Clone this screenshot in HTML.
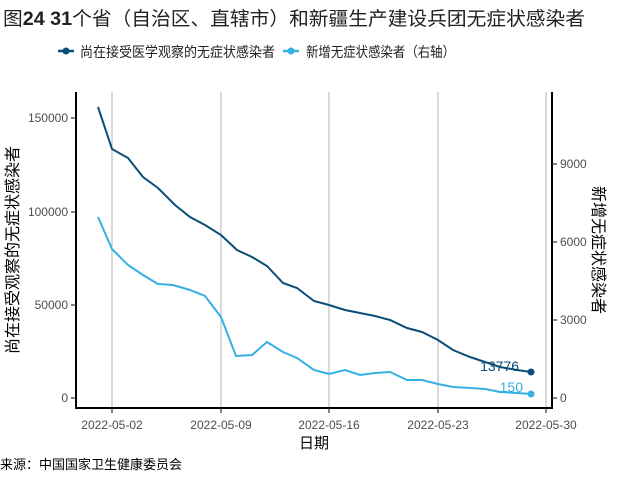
<!DOCTYPE html>
<html><head><meta charset="utf-8"><style>
body{margin:0;background:#fff;}
svg{display:block;font-family:"Liberation Sans","Noto Sans CJK SC",sans-serif;}
</style></head><body>
<svg width="640" height="480" viewBox="0 0 640 480">
<rect width="640" height="480" fill="#fff"/>
<text x="3" y="25" font-size="19" fill="#222" textLength="582" lengthAdjust="spacingAndGlyphs">图<tspan font-weight="bold">24 31</tspan>个省（自治区、直辖市）和新疆生产建设兵团无症状感染者</text>
<!-- legend -->
<line x1="58" y1="51" x2="74" y2="51" stroke="#0a4d78" stroke-width="2.5"/><circle cx="66" cy="51" r="3.5" fill="#0a4d78"/>
<text x="80" y="57" font-size="14" fill="#222" textLength="195" lengthAdjust="spacingAndGlyphs">尚在接受医学观察的无症状感染者</text>
<line x1="283" y1="51" x2="299" y2="51" stroke="#35b0e3" stroke-width="2.5"/><circle cx="291" cy="51" r="3.5" fill="#35b0e3"/>
<text x="306" y="57" font-size="14" fill="#222" textLength="149" lengthAdjust="spacingAndGlyphs">新增无症状感染者（右轴）</text>
<!-- grid -->
<g stroke="#b5b5b5" stroke-width="1">
<line x1="112" y1="92" x2="112" y2="408"/><line x1="221" y1="92" x2="221" y2="408"/>
<line x1="329" y1="92" x2="329" y2="408"/><line x1="438" y1="92" x2="438" y2="408"/>
<line x1="546" y1="92" x2="546" y2="408"/>
</g>
<!-- axes -->
<g stroke="#000" stroke-width="2">
<line x1="76" y1="92" x2="76" y2="409"/><line x1="75" y1="408" x2="553" y2="408"/>
<line x1="552" y1="92" x2="552" y2="409"/>
</g>
<g stroke="#333" stroke-width="1.2">
<line x1="71" y1="118" x2="76" y2="118"/><line x1="71" y1="212" x2="76" y2="212"/><line x1="71" y1="305" x2="76" y2="305"/><line x1="71" y1="398" x2="76" y2="398"/>
<line x1="552" y1="164" x2="557" y2="164"/><line x1="552" y1="242" x2="557" y2="242"/><line x1="552" y1="320" x2="557" y2="320"/><line x1="552" y1="398" x2="557" y2="398"/>
<line x1="112" y1="408" x2="112" y2="413"/><line x1="221" y1="408" x2="221" y2="413"/><line x1="329" y1="408" x2="329" y2="413"/><line x1="438" y1="408" x2="438" y2="413"/><line x1="546" y1="408" x2="546" y2="413"/>
</g>
<g font-size="12" fill="#4d4d4d" text-anchor="end">
<text x="68" y="122">150000</text><text x="68" y="216">100000</text><text x="68" y="309">50000</text><text x="68" y="402">0</text>
</g>
<g font-size="12" fill="#4d4d4d">
<text x="560" y="168">9000</text><text x="560" y="246">6000</text><text x="560" y="324">3000</text><text x="560" y="402">0</text>
</g>
<g font-size="12" fill="#4d4d4d" text-anchor="middle">
<text x="112" y="429">2022-05-02</text><text x="221" y="429">2022-05-09</text><text x="329" y="429">2022-05-16</text><text x="438" y="429">2022-05-23</text><text x="546" y="429">2022-05-30</text>
</g>
<text x="314" y="448" font-size="15" fill="#000" text-anchor="middle">日期</text>
<text transform="translate(18,250) rotate(-90)" font-size="16" fill="#000" text-anchor="middle">尚在接受观察的无症状感染者</text>
<text transform="translate(593,250) rotate(90)" font-size="16" fill="#000" text-anchor="middle">新增无症状感染者</text>
<!-- series -->
<polyline fill="none" stroke="#0a4d78" stroke-width="2" points="98,107 112,149 128,158 143,177 158,188 175,205 190,217 205,225 221,235 237,250 252,257 267,266 283,283 297,288 314,301 329,305 345,310 360,313 375,316 390,320 407,328 422,332 438,340 453,350 470,357 485,362 500,367 517,370 531,372"/>
<polyline fill="none" stroke="#35b0e3" stroke-width="2" points="98,217 112,249 128,265 143,275 158,284 173,285 190,290 205,296 221,317 236,356 252,355 267,342 283,352 297,358 314,370 329,374 345,370 360,375 375,373 390,372 407,380 422,380 438,384 453,387 470,388 485,389 500,392 517,393 531,394"/>
<circle cx="531" cy="372" r="3.5" fill="#0a4d78"/><circle cx="531" cy="394" r="3.5" fill="#35b0e3"/>
<text x="519" y="371" font-size="14" fill="#0a4d78" text-anchor="end">13776</text>
<text x="523" y="392" font-size="14" fill="#35b0e3" text-anchor="end">150</text>
<text x="0" y="469" font-size="13" fill="#000">来源：中国国家卫生健康委员会</text>
</svg>
</body></html>
